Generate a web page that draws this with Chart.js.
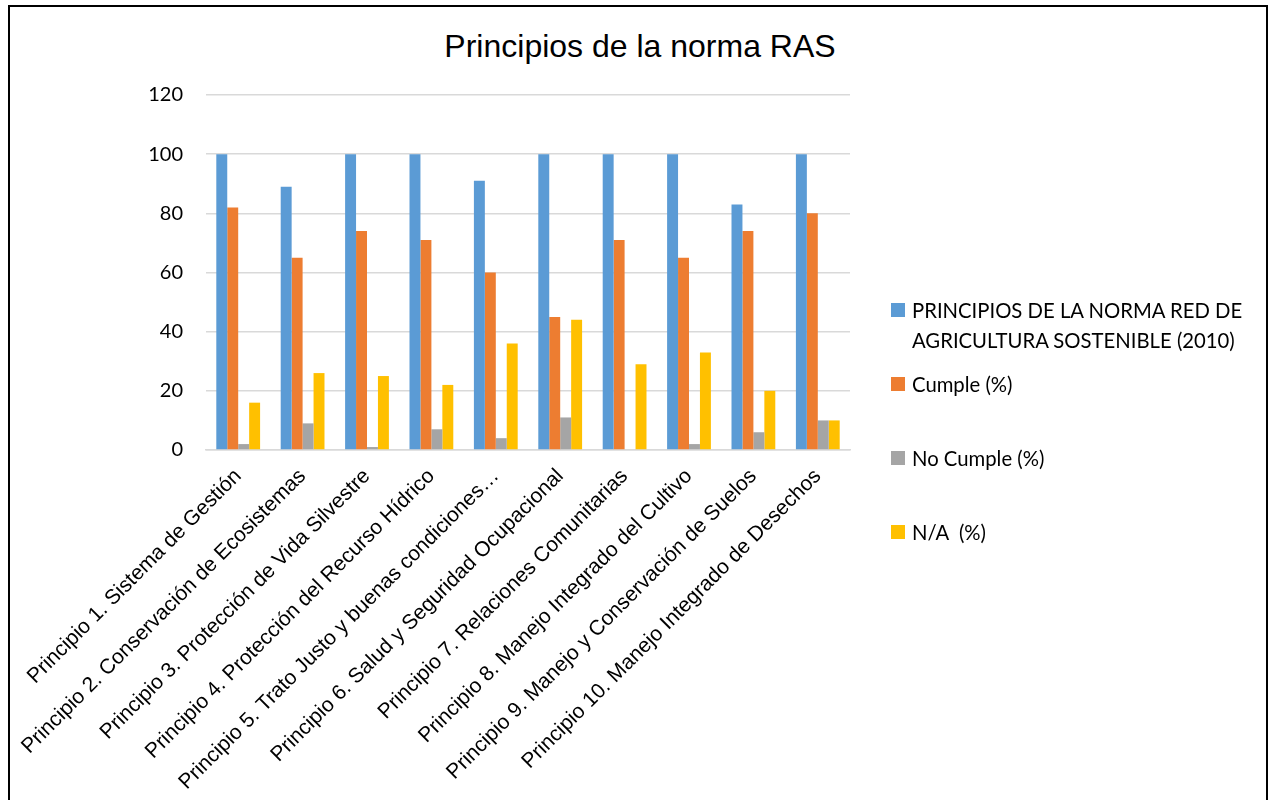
<!DOCTYPE html>
<html>
<head>
<meta charset="utf-8">
<script src="https://cdn.jsdelivr.net/npm/chart.js@4.4.0/dist/chart.umd.min.js"></script>
<style>
  body { margin: 0; background: #fff; }
  #wrap { position: relative; width: 1271px; height: 800px; overflow: hidden; }
  #frame { position: absolute; left: 8px; top: 5px; width: 1260px; height: 820px; border: 2px solid #000; box-sizing: border-box; }
  #title { position: absolute; left: 0; width: 1280px; top: 30px; text-align: center;
           font: 32px "Liberation Sans", Arial, sans-serif; line-height: 32px; color: #000; }
  #chart { position: absolute; left: 0; top: 0; }
  #legend { position: absolute; left: 891px; top: 295px; font: 20.3px Lato, sans-serif; color: #000; }
  .item { position: relative; padding-left: 21px; line-height: 30px; height: 74px; white-space: pre; }
  .box { position: absolute; left: 0; top: 8px; width: 14px; height: 14px; }
</style>
</head>
<body>
<div id="wrap">
  <div id="frame"></div>
  <div id="title">Principios de la norma RAS</div>
  <canvas id="chart" width="1271" height="800"></canvas>
  <div id="legend"></div>
</div>
<script>
const categories = [
  'Principio 1. Sistema de Gestión',
  'Principio 2. Conservación de Ecosistemas',
  'Principio 3. Protección de Vida Silvestre',
  'Principio 4. Protección del Recurso Hídrico',
  'Principio 5. Trato Justo y buenas condiciones…',
  'Principio 6. Salud y Seguridad Ocupacional',
  'Principio 7. Relaciones Comunitarias',
  'Principio 8. Manejo Integrado del Cultivo',
  'Principio 9. Manejo y Conservación de Suelos',
  'Principio 10. Manejo Integrado de Desechos'
]
const seriesNames = [
  ['PRINCIPIOS DE LA NORMA RED DE', 'AGRICULTURA SOSTENIBLE (2010)'],
  'Cumple (%)',
  'No Cumple (%)',
  'N/A  (%)'
]
const principios = [100, 89, 100, 100, 91, 100, 100, 100, 83, 100]
const cumple = [82, 65, 74, 71, 60, 45, 71, 65, 74, 80]
const noCumple = [2, 9, 1, 7, 4, 11, 0, 2, 6, 10]
const noAplica = [16, 26, 25, 22, 36, 44, 29, 33, 20, 10]
const yTicks = [0, 20, 40, 60, 80, 100, 120]

const colors = ['#5B9BD5', '#ED7D31', '#A5A5A5', '#FFC000']
const values = [principios, cumple, noCumple, noAplica]

const ctx = document.getElementById('chart').getContext('2d')

const chart = new Chart(ctx, {
    type: 'bar',
    data: {
        labels: categories,
        datasets: values.map((v, i) => ({
            label: seriesNames[i],
            data: v,
            backgroundColor: colors[i],
            borderWidth: 0,
            categoryPercentage: 0.68,
            barPercentage: 1.0
        }))
    },
    options: {
        responsive: false,
        animation: false,
        layout: {
            padding: { top: 95, right: 421, left: 0, bottom: 0 }
        },
        plugins: {
            legend: { display: false },
            tooltip: { enabled: false }
        },
        scales: {
            x: {
                grid: { display: false },
                border: { color: '#d9d9d9', width: 1.5 },
                ticks: {
                    color: '#000',
                    font: { family: '"Liberation Sans", Arial', size: 21 },
                    minRotation: 45,
                    maxRotation: 45,
                    autoSkip: false,
                    padding: 6
                },
                afterFit(scale) { scale.height = 350 }
            },
            y: {
                min: 0,
                max: 120,
                afterBuildTicks(scale) { scale.ticks = yTicks.map(v => ({ value: v })) },
                grid: { color: '#d9d9d9', lineWidth: 1.5, drawTicks: false },
                border: { display: false },
                ticks: {
                    color: '#000',
                    font: { family: 'Lato', size: 20 },
                    padding: 23
                },
                afterFit(scale) { scale.width = 206 }
            }
        }
    }
})

// html legend, built from the datasets
const legendEl = document.getElementById('legend')
chart.data.datasets.forEach((ds) => {
    const item = document.createElement('div')
    item.className = 'item'
    const box = document.createElement('span')
    box.className = 'box'
    box.style.background = ds.backgroundColor
    item.appendChild(box)
    const lines = Array.isArray(ds.label) ? ds.label : [ds.label]
    item.appendChild(document.createTextNode(lines.join('\n')))
    legendEl.appendChild(item)
})
</script>
</body>
</html>
